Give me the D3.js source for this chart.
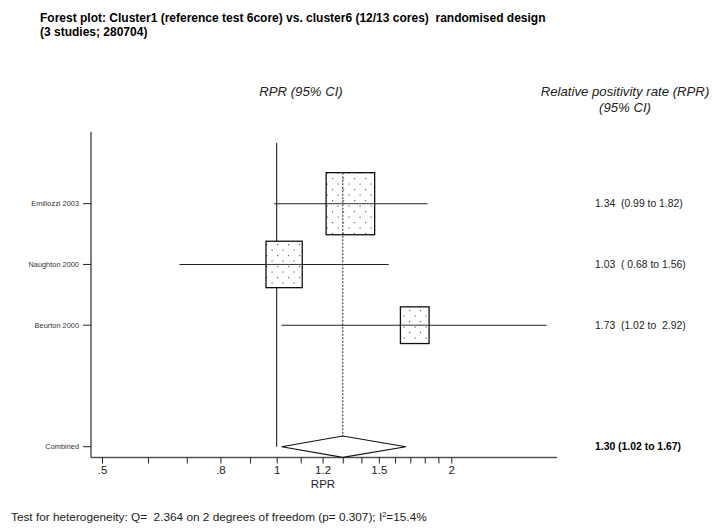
<!DOCTYPE html>
<html>
<head>
<meta charset="utf-8">
<script src="https://cdn.jsdelivr.net/npm/d3@7/dist/d3.min.js"></script>
<style>
  html, body { margin: 0; padding: 0; background: #fff; }
  svg { display: block; font-family: Arial, "Liberation Sans", sans-serif; }
  svg text { white-space: pre; }
</style>
</head>
<body>
<svg id="chart" width="712" height="530"></svg>
<script>
// Study-level relative positivity rates with 95% confidence limits
const studies = ["Emiliozzi 2003", "Naughton 2000", "Beurton 2000"];
const rpr     = [1.34, 1.03, 1.73];
const lower   = [0.99, 0.68, 1.02];
const upper   = [1.82, 1.56, 2.92];
const weights = [52.4, 29.3, 18.3];   // relative study weights (%)
const ciText  = ["1.34  (0.99 to 1.82)", "1.03  ( 0.68 to 1.56)", "1.73  (1.02 to  2.92)"];

// Pooled estimate
const pooled = { label: "Combined", est: 1.30, lo: 1.02, hi: 1.67, text: "1.30 (1.02 to 1.67)" };

// Axis ticks
const majorTicks = [0.5, 0.8, 1, 1.2, 1.5, 2];
const majorLabels = [".5", ".8", "1", "1.2", "1.5", "2"];
const minorTicks = [0.6, 0.7, 0.9, 1.1, 1.3, 1.4, 1.6, 1.7, 1.8, 1.9];

const svg = d3.select("#chart");

// Scales
const x = d3.scaleLog().domain([0.5, 2]).range([102, 451.3]);
const y = d3.scaleLinear().domain([0, 4]).range([203.7, 446.7]);
const side = d3.scaleSqrt().domain([0, 100]).range([0, 67]);

const axisLeftX = 91, axisRightX = 557, axisY = 457.5, axisTopY = 132;

// Dot fill for the study boxes
const defs = svg.append("defs");
const pat = defs.append("pattern")
  .attr("id", "dots").attr("patternUnits", "userSpaceOnUse")
  .attr("width", 11).attr("height", 11);
pat.append("rect").attr("width", 11).attr("height", 11).attr("fill", "#fff");
pat.append("rect").attr("x", 2).attr("y", 2).attr("width", 1.2).attr("height", 1.2).attr("fill", "#666");
pat.append("rect").attr("x", 7.5).attr("y", 7.5).attr("width", 1.2).attr("height", 1.2).attr("fill", "#666");

// Titles
const title = svg.append("g").attr("font-weight", "bold").attr("font-size", 12).attr("fill", "#000");
title.append("text").attr("x", 40).attr("y", 22)
  .text("Forest plot: Cluster1 (reference test 6core) vs. cluster6 (12/13 cores)  randomised design");
title.append("text").attr("x", 40).attr("y", 36).text("(3 studies; 280704)");

const hdr = svg.append("g").attr("font-style", "italic").attr("font-size", 13.2)
  .attr("fill", "#222").attr("text-anchor", "middle");
hdr.append("text").attr("x", 301).attr("y", 96).text("RPR (95% CI)");
hdr.append("text").attr("x", 625).attr("y", 96).text("Relative positivity rate (RPR)");
hdr.append("text").attr("x", 625).attr("y", 112).text("(95% CI)");

// Left axis with study labels
svg.append("line")
  .attr("x1", axisLeftX).attr("x2", axisLeftX)
  .attr("y1", axisTopY).attr("y2", axisY)
  .attr("stroke", "#555").attr("stroke-width", 1.5);

const rowLabels = studies.map((s, i) => ({ label: s, row: i }))
  .concat([{ label: pooled.label, row: 4 }]);

const rl = svg.append("g").selectAll("g").data(rowLabels).join("g")
  .attr("transform", d => `translate(0,${y(d.row)})`);
rl.append("line").attr("x1", 83).attr("x2", axisLeftX)
  .attr("stroke", "#222").attr("stroke-width", 1);
rl.append("text").attr("x", 79).attr("dy", "0.35em")
  .attr("text-anchor", "end").attr("font-size", 7.4).attr("fill", "#333")
  .text(d => d.label);

// Bottom axis
svg.append("line")
  .attr("x1", axisLeftX).attr("x2", axisRightX)
  .attr("y1", axisY).attr("y2", axisY)
  .attr("stroke", "#555").attr("stroke-width", 1.5);

const bottom = d3.axisBottom(x)
  .tickValues(majorTicks.concat(minorTicks))
  .tickSize(6).tickPadding(2)
  .tickFormat(d => { const k = majorTicks.indexOf(d); return k >= 0 ? majorLabels[k] : ""; });

const gx = svg.append("g").attr("transform", `translate(0,${axisY})`).call(bottom);
gx.select(".domain").remove();
gx.selectAll(".tick line").attr("stroke", "#222").attr("stroke-width", 1);
gx.selectAll(".tick text").attr("font-size", 11.5).attr("fill", "#222")
  .attr("font-family", "Arial, 'Liberation Sans', sans-serif");

svg.append("text").attr("x", 323).attr("y", 488).attr("text-anchor", "middle")
  .attr("font-size", 11.5).attr("fill", "#222").text("RPR");

// Line of no effect
svg.append("line")
  .attr("x1", x(1)).attr("x2", x(1))
  .attr("y1", 143).attr("y2", y(4))
  .attr("stroke", "#333").attr("stroke-width", 1.2);

// Confidence interval lines
svg.append("g").selectAll("line").data(studies).join("line")
  .attr("x1", (d, i) => x(lower[i])).attr("x2", (d, i) => x(upper[i]))
  .attr("y1", (d, i) => y(i)).attr("y2", (d, i) => y(i))
  .attr("stroke", "#222").attr("stroke-width", 1.1);

// Study boxes sized by weight
svg.append("g").selectAll("rect").data(studies).join("rect")
  .attr("x", (d, i) => x(rpr[i]) - side(weights[i]) / 2)
  .attr("y", (d, i) => y(i) - side(weights[i]) * 1.28 / 2)
  .attr("width", (d, i) => side(weights[i]))
  .attr("height", (d, i) => side(weights[i]) * 1.28)
  .attr("fill", "url(#dots)")
  .attr("stroke", "#111").attr("stroke-width", 1.3);

// CI lines drawn again over box fill
svg.append("g").selectAll("line").data(studies).join("line")
  .attr("x1", (d, i) => x(rpr[i]) - side(weights[i]) / 2)
  .attr("x2", (d, i) => x(rpr[i]) + side(weights[i]) / 2)
  .attr("y1", (d, i) => y(i)).attr("y2", (d, i) => y(i))
  .attr("stroke", "#333").attr("stroke-width", 1);

// Pooled estimate reference line
const topBox = y(0) - side(weights[0]) * 1.28 / 2;
svg.append("line")
  .attr("x1", x(pooled.est)).attr("x2", x(pooled.est))
  .attr("y1", topBox).attr("y2", y(4) - 10.7)
  .attr("stroke", "#555").attr("stroke-width", 1.3)
  .attr("stroke-dasharray", "2,1.5");

// Pooled diamond
const py = y(4), ph = 10.7;
svg.append("path")
  .attr("d", d3.line()([[x(pooled.lo), py], [x(pooled.est), py - ph], [x(pooled.hi), py], [x(pooled.est), py + ph]]) + "Z")
  .attr("fill", "#fff").attr("stroke", "#111").attr("stroke-width", 1.1);

// Right-hand estimate text
svg.append("g").selectAll("text").data(ciText).join("text")
  .attr("x", 595).attr("y", (d, i) => y(i)).attr("dy", "0.35em")
  .attr("font-size", 10.4).attr("fill", "#222")
  .text(d => d);
svg.append("text").attr("x", 595).attr("y", y(4)).attr("dy", "0.35em")
  .attr("font-size", 10.4).attr("font-weight", "bold").attr("fill", "#000")
  .text(pooled.text);

// Heterogeneity note
const note = svg.append("text").attr("x", 11).attr("y", 521)
  .attr("font-size", 11.8).attr("fill", "#222");
note.append("tspan").text("Test for heterogeneity: Q=  2.364 on 2 degrees of freedom (p= 0.307); I");
note.append("tspan").attr("font-size", 7.5).attr("dy", -4.5).text("2");
note.append("tspan").attr("dy", 4.5).text("=15.4%");
</script>
</body>
</html>
